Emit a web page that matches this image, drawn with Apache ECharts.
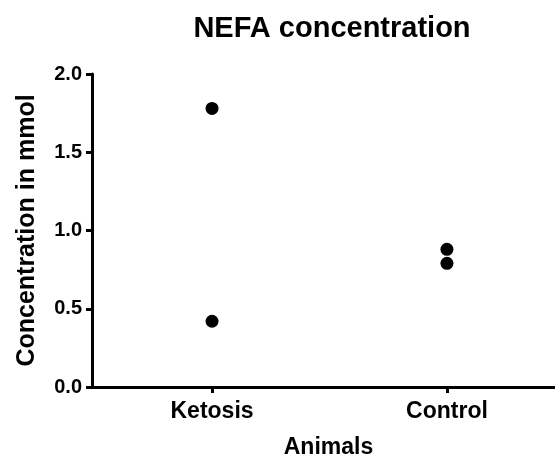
<!DOCTYPE html>
<html>
<head>
<meta charset="utf-8">
<script src="https://cdn.jsdelivr.net/npm/echarts@6/dist/echarts.min.js"></script>
<style>
  html, body { margin: 0; padding: 0; background: #fff; }
  #chart { width: 555px; height: 462px; }
</style>
</head>
<body>
<div id="chart"></div>
<script>
// Groups on the x axis (placed at positions 0 and 1)
const groups = ['Ketosis', 'Control'];
// NEFA concentration (mmol) of each animal, per group
const ketosisValues = [1.78, 0.42];
const controlValues = [0.88, 0.79];
// Y axis range and tick step
const yMin = 0;
const yMax = 2.0;
const yStep = 0.5;

const points = [];
ketosisValues.forEach(v => points.push([0, v]));
controlValues.forEach(v => points.push([1, v]));

const FONT = '"Liberation Sans", Arial, sans-serif';
const chart = echarts.init(document.getElementById('chart'), null, { renderer: 'canvas' });

chart.setOption({
  animation: false,
  backgroundColor: '#ffffff',
  title: {
    text: 'NEFA concentration',
    left: 327,
    textAlign: 'center',
    top: 9,
    textStyle: { fontFamily: FONT, fontWeight: 'bold', fontSize: 29, color: '#000' }
  },
  grid: { left: 92, top: 74, bottom: 75, right: 0, containLabel: false, outerBoundsMode: 'none' },
  xAxis: {
    type: 'value',
    min: -0.511,
    max: 1.46,
    name: 'Animals',
    nameLocation: 'middle',
    nameGap: 49,
    nameTextStyle: { fontFamily: FONT, fontWeight: 'bold', fontSize: 23, color: '#000', padding: [0, 0, 0, 10] },
    axisLine: { onZero: false, lineStyle: { color: '#000', width: 3 } },
    axisTick: { customValues: [0, 1], length: 6, lineStyle: { color: '#000', width: 3 } },
    axisLabel: {
      customValues: [0, 1],
      margin: 13,
      fontFamily: FONT, fontWeight: 'bold', fontSize: 23, color: '#000',
      formatter: v => groups[Math.round(v)]
    },
    splitLine: { show: false }
  },
  yAxis: {
    type: 'value',
    min: yMin,
    max: yMax,
    interval: yStep,
    name: 'Concentration in mmol',
    nameLocation: 'middle',
    nameGap: 52,
    nameTextStyle: { fontFamily: FONT, fontWeight: 'bold', fontSize: 25, color: '#000' },
    axisLine: { show: true, onZero: false, lineStyle: { color: '#000', width: 3 } },
    axisTick: { show: true, length: 6, lineStyle: { color: '#000', width: 3 } },
    axisLabel: {
      margin: 10,
      fontFamily: FONT, fontWeight: 'bold', fontSize: 20, color: '#000',
      formatter: v => v.toFixed(1)
    },
    splitLine: { show: false }
  },
  series: [{
    type: 'scatter',
    data: points,
    symbol: 'circle',
    symbolSize: 13,
    itemStyle: { color: '#000', opacity: 1 }
  }]
});
</script>
</body>
</html>
